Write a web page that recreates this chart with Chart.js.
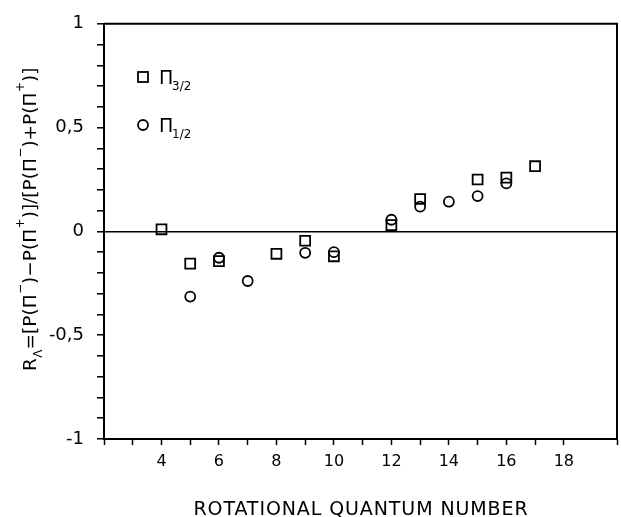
<!DOCTYPE html>
<html>
<head>
<meta charset="utf-8">
<script src="https://cdn.jsdelivr.net/npm/chart.js@4.4.1/dist/chart.umd.min.js"></script>
<style>
  html, body { margin: 0; padding: 0; background: #fff; overflow: hidden; }
  #wrap { width: 621px; height: 517px; position: relative; }
  canvas { display: block; }
</style>
</head>
<body>
<div id="wrap"><canvas id="grafico"></canvas></div>
<script>
// Pi 3/2 (squares)
const jPi32 = [4, 5, 6, 8, 9, 10, 12, 13, 15, 16, 17];
const rPi32 = [0.01, -0.155, -0.143, -0.108, -0.045, -0.12, 0.03, 0.156, 0.25, 0.259, 0.314];
// Pi 1/2 (circles)
const jPi12 = [5, 6, 7, 9, 10, 12, 13, 14, 15, 16];
const rPi12 = [-0.314, -0.127, -0.239, -0.103, -0.10, 0.056, 0.119, 0.143, 0.17, 0.231];

const xLabels = [4, 6, 8, 10, 12, 14, 16, 18];
const yLabels = [1, 0.5, 0, -0.5, -1];

function puntos(xs, ys) {
  return xs.map(function (x, i) { return { x: x, y: ys[i] }; });
}

// textos dibujados a mano (subindices y superindices)
const textos = {
  id: 'textos',
  afterDraw: function (chart) {
    const ctx = chart.ctx;
    ctx.save();
    ctx.fillStyle = '#000';
    ctx.strokeStyle = '#000';
    ctx.textBaseline = 'alphabetic';

    // leyenda
    ctx.lineWidth = 1.8;
    ctx.strokeRect(138, 72, 10, 10);
    ctx.beginPath();
    ctx.arc(143, 125, 5, 0, Math.PI * 2);
    ctx.stroke();
    ctx.font = '19px "DejaVu Sans"';
    ctx.fillText('\u03A0', 159, 84);
    ctx.fillText('\u03A0', 159, 132);
    ctx.font = '12px "DejaVu Sans"';
    ctx.fillText('3/2', 172, 90);
    ctx.fillText('1/2', 172, 138);

    // titulo eje x
    ctx.font = '19px "DejaVu Sans"';
    ctx.letterSpacing = '0.9px';
    ctx.textAlign = 'center';
    ctx.fillText('ROTATIONAL QUANTUM NUMBER', 361, 515);
    ctx.textAlign = 'left';
    ctx.letterSpacing = '0px';

    // titulo eje y
    ctx.translate(36, 371);
    ctx.rotate(-Math.PI / 2);
    let x = 0;
    const grande = '18.5px "DejaVu Sans"';
    const chico = '12px "DejaVu Sans"';
    const partes = [
      ['R', 0], ['\u039B', 6, true], ['=[P(\u03A0', 0], ['\u2212', -12, true], [')\u2212P(\u03A0', 0], ['+', -12, true],
      [')]/[P(\u03A0', 0], ['\u2212', -12, true], [')+P(\u03A0', 0], ['+', -12, true], [')]', 0]
    ];
    partes.forEach(function (p) {
      ctx.font = p[2] ? chico : grande;
      ctx.fillText(p[0], x, p[1]);
      x += ctx.measureText(p[0]).width + (p[2] ? 0 : 0.5);
    });
    ctx.restore();
  }
};

const ctx = document.getElementById('grafico');
new Chart(ctx, {
  type: 'scatter',
  data: {
    datasets: [{
      label: 'Pi 3/2',
      data: puntos(jPi32, rPi32),
      pointStyle: 'rect',
      pointRadius: 7,
      borderColor: '#000',
      backgroundColor: 'rgba(0,0,0,0)',
      borderWidth: 1.8
    }, {
      label: 'Pi 1/2',
      data: puntos(jPi12, rPi12),
      pointStyle: 'circle',
      pointRadius: 5,
      borderColor: '#000',
      backgroundColor: 'rgba(0,0,0,0)',
      borderWidth: 1.8
    }]
  },
  options: {
    responsive: true,
    maintainAspectRatio: false,
    animation: false,
    layout: { autoPadding: false, padding: { left: 0, right: 4, top: 20, bottom: 0 } },
    plugins: {
      legend: { display: false },
      tooltip: { enabled: false }
    },
    scales: {
      x: {
        type: 'linear',
        min: 2,
        max: 19.85,
        afterFit: function (scale) {
          scale.height = 78;
          scale.paddingLeft = 0;
          scale.paddingRight = 0;
        },
        border: { display: true, color: '#000', width: 2 },
        grid: { drawOnChartArea: false, drawTicks: true, tickLength: 6, tickColor: '#000', tickWidth: 1.5 },
        ticks: {
          stepSize: 1,
          autoSkip: false,
          maxRotation: 0,
          padding: 7,
          color: '#000',
          font: { family: 'DejaVu Sans', size: 16 },
          callback: function (v) { return xLabels.indexOf(v) >= 0 ? String(v) : ''; }
        }
      },
      y: {
        min: -1,
        max: 1,
        afterFit: function (scale) { scale.width = 104; },
        border: { display: true, color: '#000', width: 2 },
        grid: {
          drawOnChartArea: true,
          drawTicks: true,
          tickLength: 7,
          tickColor: '#000',
          tickWidth: 1.5,
          lineWidth: 1.6,
          color: function (c) { return c.tick && Math.abs(c.tick.value) < 1e-9 ? '#000' : 'rgba(0,0,0,0)'; }
        },
        ticks: {
          stepSize: 0.1,
          autoSkip: false,
          padding: 13,
          color: '#000',
          font: { family: 'DejaVu Sans', size: 18 },
          callback: function (v) {
            const r = Math.round(v * 2) / 2;
            if (Math.abs(v - r) > 1e-6 || yLabels.indexOf(r) < 0) return '';
            return String(r).replace('.', ',');
          }
        }
      }
    }
  },
  plugins: [textos, {
    id: 'marco',
    afterDraw: function (chart) {
      const a = chart.chartArea;
      const c = chart.ctx;
      c.save();
      c.strokeStyle = '#000';
      c.lineWidth = 2;
      c.beginPath();
      c.moveTo(a.left, a.top);
      c.lineTo(a.right, a.top);
      c.lineTo(a.right, a.bottom);
      c.stroke();
      c.restore();
    }
  }]
});
</script>
</body>
</html>
